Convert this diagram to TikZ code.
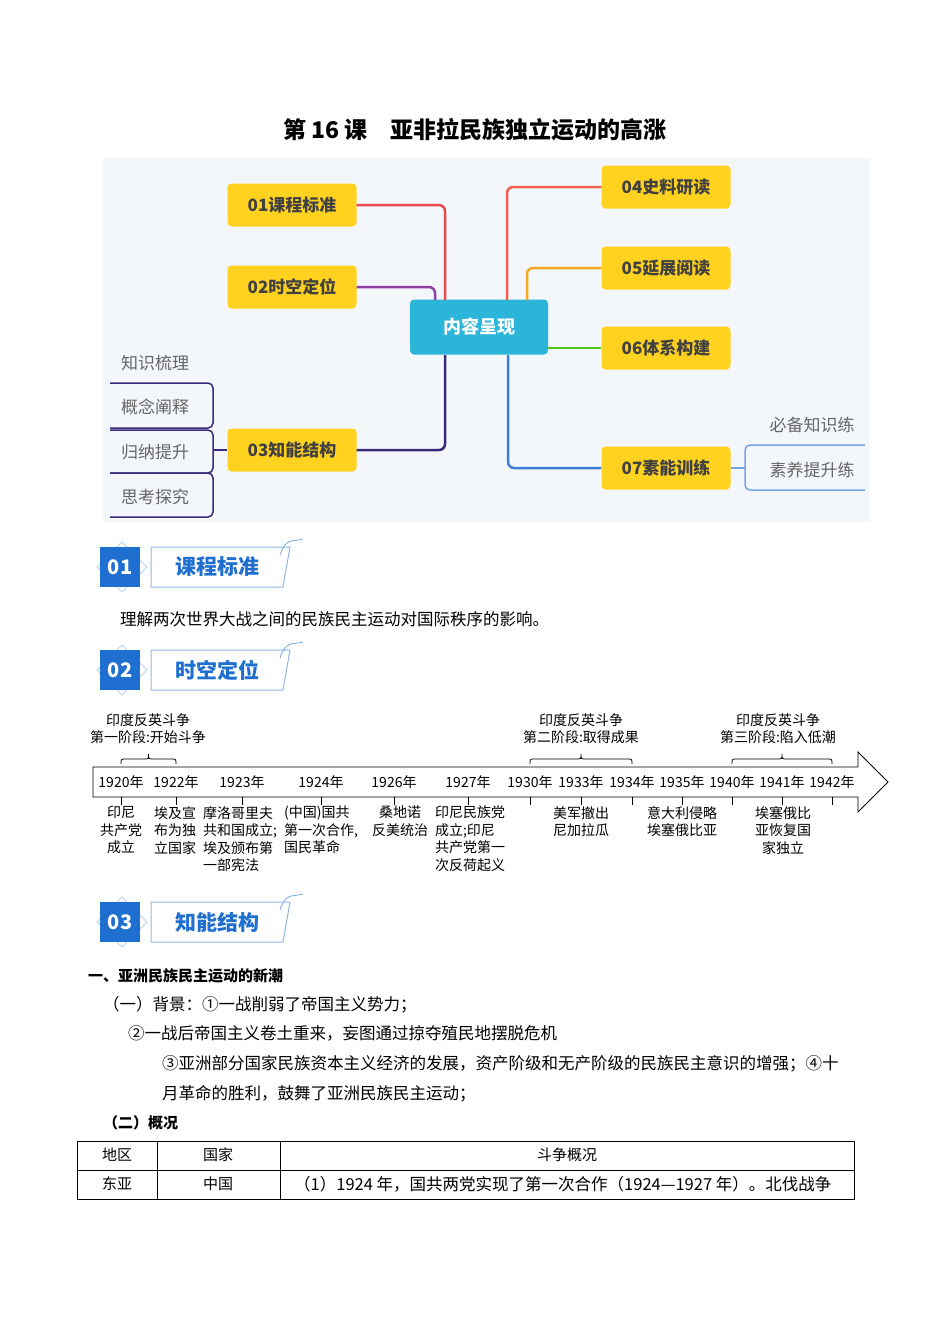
\documentclass[tikz,border=0pt]{standalone}
\usepackage{fontspec}
\setmainfont{Noto Sans CJK SC}
\definecolor{ybox}{HTML}{FFD21F}
\definecolor{cbox}{HTML}{2BB5D9}
\definecolor{bgm}{HTML}{F3F6FB}
\definecolor{hblue}{HTML}{1E6FD0}
\definecolor{l1}{HTML}{E8484F}
\definecolor{l2}{HTML}{8E3FA8}
\definecolor{l3}{HTML}{3B2A7A}
\definecolor{l4}{HTML}{F0624F}
\definecolor{l5}{HTML}{F5A623}
\definecolor{l6}{HTML}{52C41A}
\definecolor{l7}{HTML}{3C7FD9}
\begin{document}
\begin{tikzpicture}[x=1pt,y=-1pt,
 ybx/.style={fill=ybox,rounded corners=4pt,minimum width=129pt,minimum height=43pt,font=\fontsize{17}{17}\selectfont\bfseries\color{black!75}},
 lnk/.style={line width=2.5pt,rounded corners=6pt},
 item/.style={font=\fontsize{17}{17}\selectfont\color{black!60}},
 body/.style={font=\fontsize{16.5}{16.5}\selectfont,anchor=west,inner sep=0pt},
 tl/.style={font=\fontsize{14}{17.5}\selectfont,align=center,anchor=north,inner sep=0pt},
 yr/.style={font=\fontsize{14}{14}\selectfont,inner sep=0pt},
 sec/.style={font=\fontsize{21}{21}\selectfont\bfseries\color{hblue}}]
\useasboundingbox (0,0) rectangle (950,1344);
\node[font=\fontsize{23}{23}\selectfont\bfseries] (title) at (475,130) {第 16 课\quad 亚非拉民族独立运动的高涨};
% mind map
\fill[bgm] (103,158) rectangle (870,522);
\node[fill=cbox,rounded corners=4pt,minimum width=138pt,minimum height=55pt,font=\fontsize{18}{18}\selectfont\bfseries\color{white}] (c) at (479,327) {内容呈现};
\node[ybx] (a1) at (292,205) {01课程标准};
\node[ybx] (a2) at (292,287) {02时空定位};
\node[ybx] (a3) at (292,450) {03知能结构};
\node[ybx] (a4) at (666,187) {04史料研读};
\node[ybx] (a5) at (666,268) {05延展阅读};
\node[ybx] (a6) at (666,348) {06体系构建};
\node[ybx] (a7) at (666,468) {07素能训练};
\draw[lnk,l1] (a1.east) -| (445,300);
\draw[lnk,l2] (a2.east) -| (435,300);
\draw[lnk,l3] (a3.east) -| (445,355);
\draw[lnk,l4] (a4.west) -| (507,300);
\draw[lnk,l5] (a5.west) -| (527,300);
\draw[lnk,l6] (c.east |- a6) -- (a6.west);
\draw[lnk,l7] (a7.west) -| (508,355);
\node[item] (k1) at (155,363) {知识梳理};
\node[item] (k2) at (155,407) {概念阐释};
\node[item] (k3) at (155,452) {归纳提升};
\node[item] (k4) at (155,497) {思考探究};
\coordinate (b3) at (213,450);
\draw[l3,line width=1.5pt] (a3.west) -- (b3);
\foreach \y/\z in {383/428, 430/473, 473/517}{
 \draw[l3,line width=1.5pt,rounded corners=5pt] (110,\z) -- (213,\z) -- (213,\y) -- (110,\y);}
\node[item] (m1) at (812,425) {必备知识练};
\node[item] (m2) at (812,470) {素养提升练};
\draw[l7!70,line width=1.5pt] (a7.east) -- (745,468);
\draw[l7!70,line width=1.5pt,rounded corners=5pt] (865,445) -- (745,445) -- (745,490) -- (865,490);
% section headers
\foreach \n/\t/\yy in {01/课程标准/567, 02/时空定位/670, 03/知能结构/922}{
 \draw[hblue!30,line width=0.8pt] (97,\yy) -- (122,\yy-25) -- (147,\yy) -- (122,\yy+25) -- cycle;
 \node[fill=hblue,minimum width=40pt,minimum height=40pt,font=\fontsize{20}{20}\selectfont\bfseries\color{white}] at (120,\yy) {\n};
 \draw[hblue!50,line width=1pt] (151,\yy-20) -- (290,\yy-20) -- (283,\yy+20) -- (151,\yy+20) -- cycle;
 \draw[hblue!60,line width=0.8pt] (280,\yy-12) .. controls (286,\yy-30) and (293,\yy-25) .. (303,\yy-28);
 \node[sec] at (217,\yy) {\t};}
\node[body] (s1) at (120,619) {理解两次世界大战之间的民族民主运动对国际秩序的影响。};
% timeline
\draw[line width=0.9pt] (93,767) -- (858,767) -- (858,752) -- (888,782) -- (858,812) -- (858,797) -- (93,797) -- cycle;
\foreach \x/\y [count=\i] in {121/1920,176/1922,242/1923,321/1924,394/1926,468/1927,530/1930,581/1933,632/1934,682/1935,732/1940,782/1941,832/1942}{
 \node[yr] (y\i) at (\x,782) {\y 年};
 \draw[line width=0.8pt] (\x,797) -- (\x,805);}
\foreach \a/\b in {121/176, 530/632, 732/832}{
 \pgfmathsetmacro\m{(\a+\b)/2}
 \draw[line width=0.8pt] (\a,764) .. controls (\a,759) .. (\a+5,759) -- (\m-5,759) .. controls (\m,759) .. (\m,754) .. controls (\m,759) .. (\m+5,759) -- (\b-5,759) .. controls (\b,759) .. (\b,764);}
\node[tl] (p1) at (148,713) {印度反英斗争\\第一阶段:开始斗争};
\node[tl] (p2) at (581,713) {印度反英斗争\\第二阶段:取得成果};
\node[tl] (p3) at (778,713) {印度反英斗争\\第三阶段:陷入低潮};
\node[tl] (e1) at (121,806) {印尼\\共产党\\成立};
\node[tl] (e2) at (175,806) {埃及宣\\布为独\\立国家};
\node[tl,align=left] (e3) at (240,806) {摩洛哥里夫\\共和国成立;\\埃及颁布第\\一部宪法};
\node[tl,align=left] (e4) at (321,806) {(中国)国共\\第一次合作,\\国民革命};
\node[tl] (e5) at (400,806) {桑地诺\\反美统治};
\node[tl,align=left] (e6) at (470,806) {印尼民族党\\成立;印尼\\共产党第一\\次反荷起义};
\node[tl] (e7) at (581,806) {美军撤出\\尼加拉瓜};
\node[tl] (e8) at (682,806) {意大利侵略\\埃塞俄比亚};
\node[tl] (e9) at (783,806) {埃塞俄比\\亚恢复国\\家独立};
% text
\node[body,font=\fontsize{15}{15}\selectfont\bfseries] (h1) at (88,976) {一、亚洲民族民主运动的新潮};
\node[body] (t1) at (103,1005) {（一）背景：①一战削弱了帝国主义势力；};
\node[body] (t2) at (128,1033) {②一战后帝国主义卷土重来，妄图通过掠夺殖民地摆脱危机};
\node[body] (t3) at (162,1064) {③亚洲部分国家民族资本主义经济的发展，资产阶级和无产阶级的民族民主意识的增强；④十};
\node[body] (t4) at (162,1094) {月革命的胜利，鼓舞了亚洲民族民主运动；};
\node[body,font=\fontsize{15}{15}\selectfont\bfseries] (h2) at (103,1123) {（二）概况};
\draw[line width=0.8pt] (77,1141) rectangle (854,1199);
\draw[line width=0.8pt] (77,1170) -- (854,1170) (157,1141) -- (157,1199) (280,1141) -- (280,1199);
\node[font=\fontsize{15}{15}\selectfont] (r1) at (117,1155) {地区};
\node[font=\fontsize{15}{15}\selectfont] (r2) at (218,1155) {国家};
\node[font=\fontsize{15}{15}\selectfont] (r3) at (567,1155) {斗争概况};
\node[font=\fontsize{15}{15}\selectfont] (r4) at (117,1184) {东亚};
\node[font=\fontsize{15}{15}\selectfont] (r5) at (218,1184) {中国};
\node[body] (r6) at (294,1184) {（1）1924 年，国共两党实现了第一次合作（1924—1927 年）。北伐战争};
\end{tikzpicture}
\end{document}
